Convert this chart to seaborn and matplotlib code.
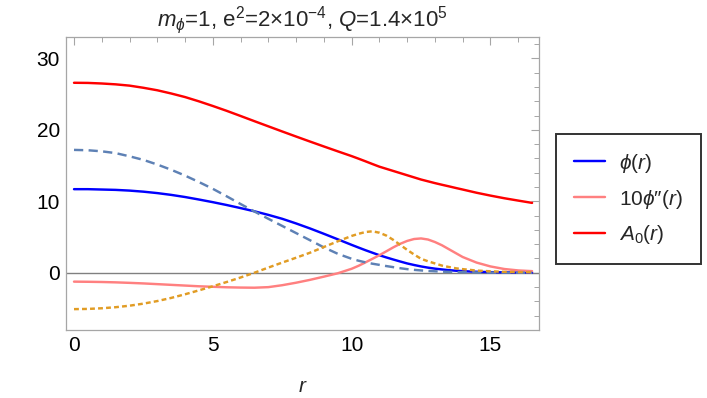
import numpy as np
import pandas as pd
import matplotlib
matplotlib.use("Agg")
import matplotlib.pyplot as plt
import seaborn as sns

# ---- data ----
r = [0.0, 0.5, 1.0, 1.5, 2.0, 2.5, 3.0, 3.5, 4.0, 4.5, 5.0, 5.5, 6.0, 6.5, 7.0, 7.5,
     8.0, 8.5, 9.0, 9.5,
     10.0, 10.25, 10.5, 10.75, 11.0, 11.25, 11.5, 11.75, 12.0, 12.25, 12.5, 12.75,
     13.0, 13.25, 13.5, 13.75, 14.0,
     14.5, 15.0, 15.5, 16.0, 16.5]

phi = [11.7, 11.7, 11.65, 11.6, 11.5, 11.35, 11.15, 10.9, 10.6, 10.25, 9.88, 9.48,
       9.05, 8.6, 8.1, 7.55, 6.9, 6.2, 5.45, 4.68,
       3.9, 3.52, 3.15, 2.8, 2.45, 2.14, 1.85, 1.57, 1.3, 1.08, 0.88, 0.71,
       0.57, 0.46, 0.36, 0.28, 0.22,
       0.13, 0.08, 0.05, 0.03, 0.02]

phi2x10 = [-1.25, -1.27, -1.3, -1.35, -1.42, -1.5, -1.6, -1.7, -1.8, -1.9, -1.97,
           -2.04, -2.08, -2.1, -2.02, -1.75, -1.4, -1.0, -0.55, -0.08,
           0.55, 0.97, 1.45, 1.95, 2.45, 3.0, 3.55, 4.05, 4.45, 4.72, 4.8, 4.65,
           4.3, 3.85, 3.3, 2.75, 2.2,
           1.42, 0.88, 0.52, 0.32, 0.22]

A0 = [26.6, 26.58, 26.5, 26.38, 26.2, 25.9, 25.55, 25.1, 24.6, 24.0, 23.35, 22.67,
      21.95, 21.22, 20.5, 19.78, 19.07, 18.37, 17.68, 17.0,
      16.33, 15.97, 15.6, 15.22, 14.85, 14.55, 14.25, 13.95, 13.65, 13.35, 13.05, 12.8,
      12.55, 12.32, 12.1, 11.87, 11.65,
      11.2, 10.8, 10.43, 10.1, 9.78]

dashed_curve = [17.2, 17.15, 17.0, 16.75, 16.3, 15.8, 15.15, 14.42, 13.6, 12.7,
                11.75, 10.7, 9.62, 8.57, 7.55, 6.55, 5.55, 4.55, 3.55, 2.65,
                1.95, 1.68, 1.45, 1.26, 1.1, 0.93, 0.78, 0.63, 0.5, 0.4, 0.32, 0.25,
                0.2, 0.15, 0.12, 0.09, 0.07,
                0.04, 0.02, 0.01, 0.01, 0.0]

dotted_curve = [-5.1, -5.07, -4.98, -4.83, -4.62, -4.33, -3.97, -3.53, -3.02, -2.47,
                -1.9, -1.3, -0.67, 0.0, 0.72, 1.42, 2.1, 2.8, 3.6, 4.4,
                5.15, 5.45, 5.7, 5.8, 5.6, 5.2, 4.6, 3.9, 3.2, 2.55, 1.95, 1.6,
                1.3, 1.0, 0.8, 0.62, 0.5,
                0.3, 0.2, 0.12, 0.08, 0.05]

legend_labels = [r"$\phi$($r$)", r"10$\phi$″($r$)", r"$A$$_0$($r$)"]
title_text = r"$m_{\phi}$=1, e$^2$=2×10$^{-4}$, $Q$=1.4×10$^5$"
x_ticks = [0, 5, 10, 15]
y_ticks = [0, 10, 20, 30]

# ---- style ----
sns.set_theme(style="white")
plt.rcParams["font.family"] = ["Liberation Sans", "DejaVu Sans"]
plt.rcParams["mathtext.fontset"] = "custom"
plt.rcParams["mathtext.rm"] = "Liberation Sans"
plt.rcParams["mathtext.it"] = "Liberation Sans:italic"
plt.rcParams["mathtext.bf"] = "Liberation Sans:bold"

df = pd.DataFrame({"r": r, "phi": phi, "phi2": phi2x10, "A0": A0,
                   "dashed": dashed_curve, "dotted": dotted_curve})

fig = plt.figure(figsize=(7.07, 3.98), dpi=100)
ax = fig.add_axes([0.0929, 0.1709, 0.6699, 0.7354])

lw = 1.75
ax.axhline(0, color="#808080", lw=1.0, zorder=1)
sns.lineplot(data=df, x="r", y="phi", ax=ax, color=(0, 0, 1), lw=lw,
             estimator=None, zorder=3)
sns.lineplot(data=df, x="r", y="phi2", ax=ax, color=(1, 0.5, 0.5), lw=lw,
             estimator=None, zorder=3)
sns.lineplot(data=df, x="r", y="A0", ax=ax, color=(1, 0, 0), lw=lw,
             estimator=None, zorder=3)
sns.lineplot(data=df, x="r", y="dashed", ax=ax, color="#5E81B5", lw=lw,
             estimator=None, zorder=4)
sns.lineplot(data=df, x="r", y="dotted", ax=ax, color="#E19C24", lw=lw,
             estimator=None, zorder=5)

lines = ax.get_lines()
curve_lines = [l for l in lines if len(l.get_xdata()) == len(r)]
curve_lines[3].set_dashes((3.8, 2.2))
curve_lines[4].set_dashes((2.0, 1.3))

ax.set_xlim(-0.30, 16.76)
ax.set_ylim(-8.02, 32.97)
ax.set_xticks(x_ticks)
ax.set_yticks(y_ticks)
ax.set_xticks(np.arange(0, 17, 1), minor=True)
ax.set_yticks(np.arange(-8, 33, 2), minor=True)

frame_col = "#A6A6A6"
for s in ax.spines.values():
    s.set_color(frame_col)
    s.set_linewidth(0.9)
ax.tick_params(which="both", direction="in", top=True, right=True,
               color=frame_col, labelsize=15, pad=4, labelcolor="black")
ax.tick_params(which="major", length=6, width=0.8)
ax.tick_params(which="minor", length=3.5, width=0.7)

ax.set_xlabel(r"$r$", fontsize=15, labelpad=16)
ax.set_ylabel("")
ax.set_title(title_text, fontsize=16, pad=8)

leg = ax.legend(handles=curve_lines[:3], labels=legend_labels,
                loc="center left", bbox_to_anchor=(1.035, 0.4475),
                fontsize=15, frameon=True, fancybox=False,
                borderpad=0.85, handlelength=1.5, handletextpad=0.7,
                labelspacing=0.62, borderaxespad=0)
leg.get_frame().set_edgecolor("black")
leg.get_frame().set_linewidth(1.4)

fig.savefig("out.png", dpi=100)
